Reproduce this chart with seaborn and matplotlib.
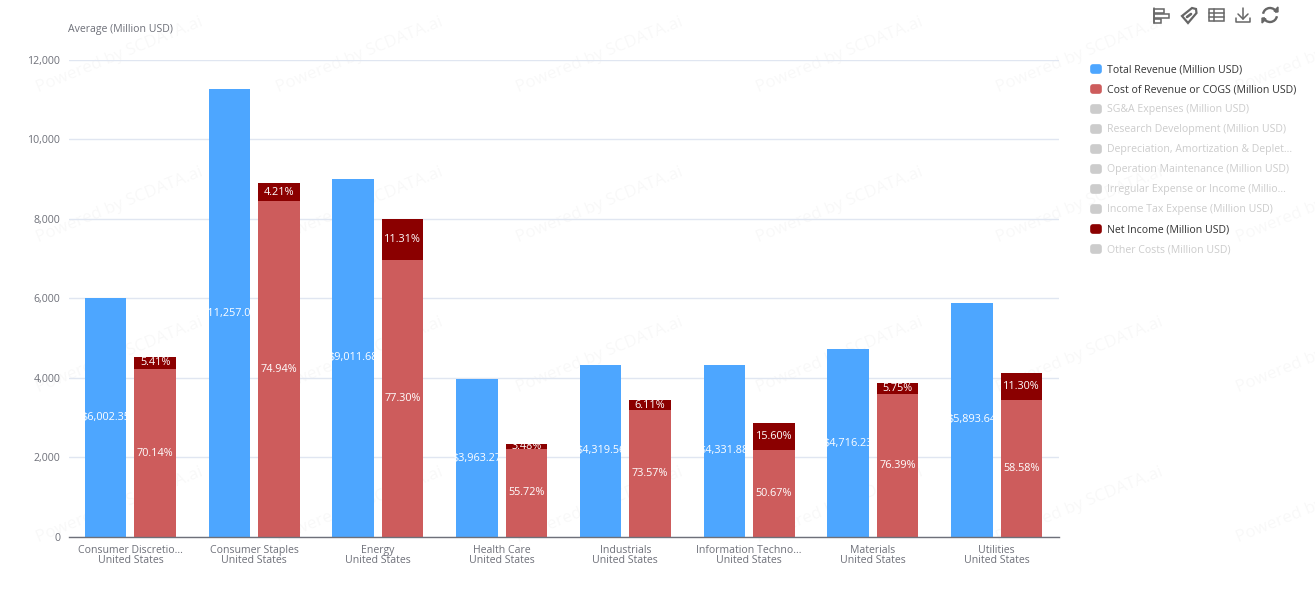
import numpy as np
import pandas as pd
import matplotlib
matplotlib.use('Agg')
import matplotlib.pyplot as plt
import seaborn as sns
from matplotlib.patches import FancyBboxPatch, Rectangle, Polygon, Arc

# -----------------------------
# Data
# -----------------------------
categories = ['Consumer Discretio...', 'Consumer Staples', 'Energy', 'Health Care',
              'Industrials', 'Information Techno...', 'Materials', 'Utilities']
country = 'United States'
revenue = [6002.35, 11257.04, 9011.68, 3963.27, 4319.56, 4331.88, 4716.23, 5893.64]
cost = [4210, 8436, 6966, 2208, 3178, 2195, 3603, 3453]
net_income = [325, 474, 1019, 138, 264, 676, 271, 666]
revenue_labels = ['$6,002.35', '$11,257.04', '$9,011.68', '$3,963.27',
                  '$4,319.56', '$4,331.88', '$4,716.23', '$5,893.64']
cost_labels = ['70.14%', '74.94%', '77.30%', '55.72%', '73.57%', '50.67%', '76.39%', '58.58%']
net_labels = ['5.41%', '4.21%', '11.31%', '3.48%', '6.11%', '15.60%', '5.75%', '11.30%']
yticks = [0, 2000, 4000, 6000, 8000, 10000, 12000]

legend_names = ['Total Revenue (Million USD)', 'Cost of Revenue or COGS (Million USD)',
                'SG&A Expenses (Million USD)', 'Research Development (Million USD)',
                'Depreciation, Amortization & Deplet...', 'Operation Maintenance (Million USD)',
                'Irregular Expense or Income (Millio...', 'Income Tax Expense (Million USD)',
                'Net Income (Million USD)', 'Other Costs (Million USD)']

BLUE = '#4DA6FF'
RED = '#CD5C5C'
DARK = '#8B0000'
OFF = '#CCCCCC'
AXIS = '#6E7079'
legend_colors = [BLUE, RED, OFF, OFF, OFF, OFF, OFF, OFF, DARK, OFF]
legend_text = ['#333333', '#333333', OFF, OFF, OFF, OFF, OFF, OFF, '#333333', OFF]

W, H = 1315, 605
FS = 7.6

sns.set_style('white')
plt.rcParams['font.family'] = ['Open Sans', 'DejaVu Sans']

fig = plt.figure(figsize=(W / 100, H / 100), dpi=100)

# watermark goes behind the bars
back = fig.add_axes([0, 0, 1, 1], zorder=0)
back.set_xlim(0, W)
back.set_ylim(H, 0)
back.axis('off')
for wy in [55, 205, 355, 505]:
    for wx in [120, 360, 600, 840, 1080, 1320]:
        back.text(wx, wy, 'Powered by SCDATA.ai', color='#888888', alpha=0.055, fontsize=12.2,
                  rotation=22, ha='center', va='center', rotation_mode='anchor', clip_on=True)

ax = fig.add_axes([68.5 / W, 1 - 536.8 / H, 990 / W, 477 / H], zorder=1)
ax.patch.set_alpha(0)

df = pd.DataFrame({
    'category': categories * 2,
    'value': revenue + cost,
    'series': ['Total Revenue'] * 8 + ['Cost'] * 8,
})

sns.barplot(data=df, x='category', y='value', hue='series',
            hue_order=['Total Revenue', 'Cost'],
            palette={'Total Revenue': BLUE, 'Cost': RED},
            width=0.8, gap=0.165, saturation=1, legend=False, ax=ax, zorder=3, linewidth=0)

rev_bars = ax.containers[0]
cost_bars = ax.containers[1]
net_bars = ax.bar([p.get_x() + p.get_width() / 2 for p in cost_bars], net_income,
                  width=cost_bars[0].get_width(), bottom=cost, color=DARK, zorder=3, linewidth=0)

# labels get cut at the bar edge, same as the original
for bars, labels in [(rev_bars, revenue_labels), (cost_bars, cost_labels), (net_bars, net_labels)]:
    for p, lab in zip(bars, labels):
        t = ax.text(p.get_x() + p.get_width() / 2, p.get_y() + p.get_height() / 2, lab,
                    ha='center', va='center', color='white', fontsize=FS + 0.2, zorder=4)
        t.set_clip_path(p)

# axes
ax.set_xlim(-0.5, 7.5)
ax.set_ylim(0, 12000)
ax.set_yticks(yticks)
ax.set_yticklabels([f'{v:,}' for v in yticks])
ax.set_xticks(range(8))
ax.set_xticklabels([f'{c}\n{country}' for c in categories], linespacing=0.85)
ax.set_xticks(np.arange(-0.5, 8), minor=True)
ax.set_xlabel('')
ax.set_ylabel('')
ax.grid(axis='y', color='#E0E6F1', lw=1, zorder=0)
ax.set_axisbelow(True)
for s in ['top', 'right', 'left']:
    ax.spines[s].set_visible(False)
ax.spines['bottom'].set_color(AXIS)
ax.spines['bottom'].set_linewidth(1)
ax.spines['bottom'].set_zorder(5)
ax.tick_params(axis='x', which='major', length=0, pad=5.8, labelsize=FS, labelcolor=AXIS)
ax.tick_params(axis='x', which='minor', length=3.6, width=1, color=AXIS)
ax.tick_params(axis='y', length=0, pad=6, labelsize=FS, labelcolor=AXIS)

# -----------------------------
# Overlay in pixel coordinates: legend, toolbar
# -----------------------------
over = fig.add_axes([0, 0, 1, 1], zorder=10)
over.set_xlim(0, W)
over.set_ylim(H, 0)
over.axis('off')
over.patch.set_alpha(0)

over.text(68.5, 29.5, 'Average (Million USD)', color=AXIS, fontsize=FS, ha='left', va='center')

for i, (name, col, tc) in enumerate(zip(legend_names, legend_colors, legend_text)):
    y = 69.5 + 20 * i
    over.add_patch(FancyBboxPatch((1091, y - 4.5), 10, 8, boxstyle='round,pad=0,rounding_size=2',
                                  mutation_aspect=1, fc=col, ec=col, lw=1.2))
    over.text(1107, y, name, color=tc, fontsize=FS, ha='left', va='center')

# toolbar icons
ic = '#666666'
lw = 1.1
# bar sort icon
over.plot([1154.5, 1154.5], [8, 23], color=ic, lw=lw)
for y0, w0 in [(9, 10), (14, 15), (19, 7)]:
    over.add_patch(Rectangle((1154.5, y0), w0, 4, fc='none', ec=ic, lw=lw))
# tag icon
over.add_patch(Polygon([[1182, 16], [1192, 8], [1196, 9], [1196.5, 13], [1188, 23]],
                       closed=True, fc='none', ec=ic, lw=lw + 0.5))
over.plot([1187, 1191], [17, 14], color=ic, lw=lw + 0.8)
# table icon
over.add_patch(Rectangle((1209, 9), 15, 12, fc='none', ec=ic, lw=lw))
over.plot([1209, 1224], [13, 13], color=ic, lw=lw)
over.plot([1209, 1224], [17, 17], color=ic, lw=lw)
over.plot([1214, 1214], [9, 21], color=ic, lw=lw)
# download icon
over.plot([1243, 1243], [8, 19], color=ic, lw=lw)
over.plot([1238, 1243, 1248], [14, 19, 14], color=ic, lw=lw)
over.plot([1236, 1236, 1250, 1250], [18, 22, 22, 18], color=ic, lw=lw)
# refresh icon
over.add_patch(Arc((1270, 15), 14, 14, theta1=190, theta2=340, color=ic, lw=lw + 0.6))
over.add_patch(Arc((1270, 15), 14, 14, theta1=10, theta2=160, color=ic, lw=lw + 0.6))
over.add_patch(Polygon([[1274, 11], [1278, 7], [1278, 12]], closed=True, fc=ic, ec=ic))
over.add_patch(Polygon([[1266, 19], [1262, 23], [1262, 18]], closed=True, fc=ic, ec=ic))

fig.savefig('out.png', dpi=100, facecolor='white')
